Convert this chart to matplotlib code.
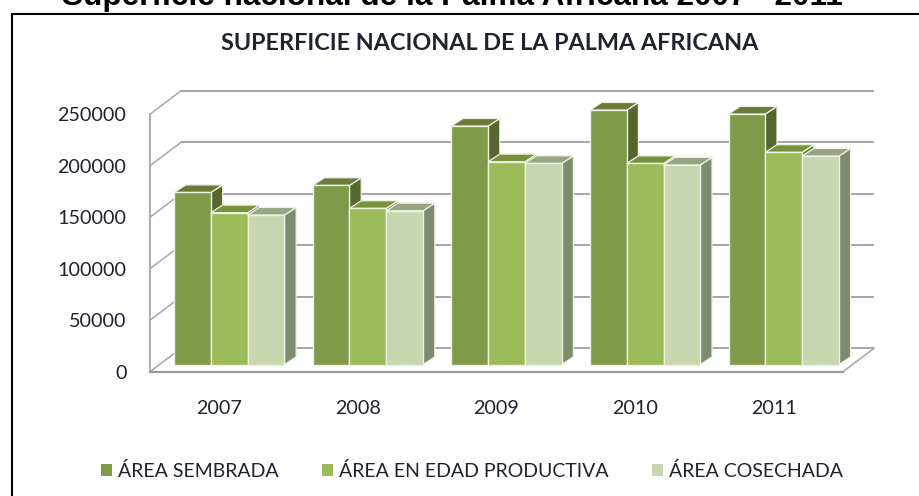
import matplotlib
matplotlib.use("Agg")
import matplotlib.pyplot as plt
from matplotlib.patches import Patch

years = ["2007", "2008", "2009", "2010", "2011"]
sembrada = [167000, 173900, 231500, 247000, 243200]
productiva = [147400, 151600, 196900, 195200, 206000]
cosechada = [145100, 149300, 195200, 193700, 202400]
series_names = ["ÁREA SEMBRADA", "ÁREA EN EDAD PRODUCTIVA", "ÁREA COSECHADA"]
yticks = [0, 50000, 100000, 150000, 200000, 250000]
outer_title = "Superficie nacional de la Palma Africana 2007 - 2011"
inner_title = "SUPERFICIE NACIONAL DE LA PALMA AFRICANA"

front = ["#7F9A48", "#9BBB59", "#C7D6AE"]
top = ["#667C39", "#76923C", "#98A583"]
side = ["#55662F", "#66803A", "#7F8B6D"]
edge = "#EDF1E3"
grid = "#8E8E8E"
text_c = "#1F2330"

W, H = 920, 496
fig = plt.figure(figsize=(W / 100, H / 100), dpi=100, facecolor="white")
L, R, B, T = 150, 843, 371.7, 114.2
ax = fig.add_axes([L / W, 1 - B / H, (R - L) / W, (B - T) / H])
ax.set_xlim(-0.5, 4.5)
ax.set_ylim(0, 250000)
ax.patch.set_visible(False)
for s in ax.spines.values():
    s.set_visible(False)

px_x = 5 / (R - L)              # data units per pixel, x
px_y = 250000 / (B - T)         # data units per pixel, y
wall_dx, wall_dy = 31 * px_x, 23.4 * px_y
bar_dx, bar_dy = 10 * px_x, 7.2 * px_y
depth_x, depth_y = 11.7 * px_x, 7.6 * px_y
bar_w = 36.8 * px_x

# walls and floor
x0, x1 = -0.5, 4.5
for v in yticks:
    ax.plot([x0 + wall_dx, x1 + wall_dx], [v + wall_dy] * 2, color=grid, lw=1.1,
            clip_on=False, zorder=1, solid_capstyle="butt")
    ax.plot([x0, x0 + wall_dx], [v, v + wall_dy], color="#A6A6A6", lw=1.1,
            clip_on=False, zorder=1)
ax.plot([x0, x0], [0, 250000], color="#A6A6A6", lw=1.3, clip_on=False, zorder=1)
ax.plot([x1, x1 + wall_dx], [0, wall_dy], color="#A6A6A6", lw=1.1, clip_on=False, zorder=1)
ax.plot([x0, x1], [0, 0], color="#9A9A9A", lw=1.6, clip_on=False, zorder=1)

# bars
all_series = [sembrada, productiva, cosechada]
z = 3
for i in range(len(years)):
    for k, vals in enumerate(all_series):
        left = i + bar_dx + (k - 1.5) * bar_w
        right = left + bar_w
        v = vals[i]
        base = bar_dy
        ax.fill([right, right + depth_x, right + depth_x, right],
                [base, base + depth_y, v + base + depth_y, v + base],
                fc=side[k], ec=edge, lw=0.9, zorder=z, clip_on=False)
        ax.fill([left, right, right + depth_x, left + depth_x],
                [v + base, v + base, v + base + depth_y, v + base + depth_y],
                fc=top[k], ec=edge, lw=0.9, zorder=z, clip_on=False)
        ax.bar(left, v, width=bar_w, bottom=base, align="edge", fc=front[k], ec=edge,
               lw=1.0, zorder=z + 0.5, clip_on=False)
        z += 1

ax.set_xticks(range(len(years)), years)
ax.set_yticks(yticks, [str(v) for v in yticks])
ax.tick_params(axis="both", length=0, labelcolor=text_c, labelsize=14.2)
ax.tick_params(axis="x", pad=20.5)
ax.tick_params(axis="y", pad=17)
for lab in ax.get_xticklabels() + ax.get_yticklabels():
    lab.set_family("Lato")

# legend
handles = [Patch(fc=c, ec="none") for c in front]
fig.legend(handles, series_names, loc="center left", bbox_to_anchor=(100.7 / W, 1 - 471 / H),
           bbox_transform=fig.transFigure, ncol=3, frameon=False, borderpad=0, borderaxespad=0,
           handlelength=0.57, handleheight=0.57, handletextpad=0.3, columnspacing=2.25,
           prop={"family": "Lato", "size": 14.0}, labelcolor=text_c)

# titles and frame
fig.text(490 / W, 1 - 43.5 / H, inner_title, ha="center", va="center", family="Lato",
         weight="bold", size=16.8, color=text_c)
fig.text(452 / W, 1 - 4.5 / H, outer_title, ha="center", va="baseline", family="Liberation Sans",
         weight="bold", size=22.7, color="black")
fig.add_artist(plt.Line2D([11.5 / W, 11.5 / W, 1], [0, 1 - 14 / H, 1 - 14 / H],
                          color="black", lw=1.5, transform=fig.transFigure, solid_joinstyle="miter"))

fig.savefig("out.png", dpi=100, facecolor="white")
